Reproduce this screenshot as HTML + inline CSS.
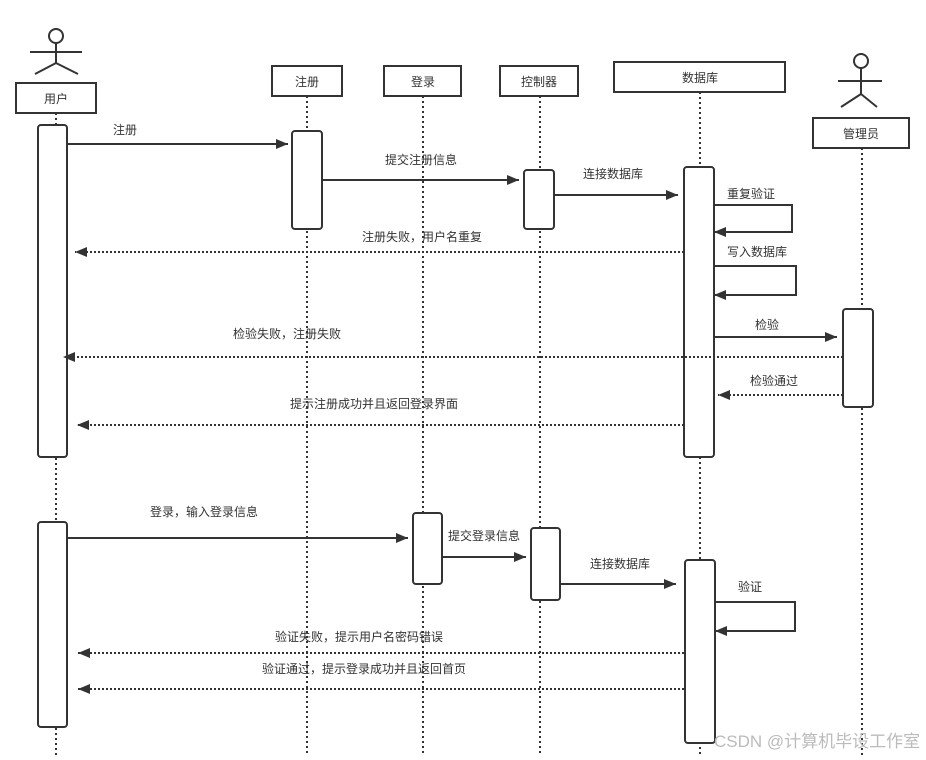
<!DOCTYPE html>
<html><head><meta charset="utf-8"><style>
html,body{margin:0;padding:0;background:#fff;}
svg text{font-family:"Liberation Sans","Noto Sans CJK SC",sans-serif;font-size:12px;fill:#333;}
</style></head><body>
<svg width="926" height="755" viewBox="0 0 926 755" xmlns="http://www.w3.org/2000/svg">
<defs>
<marker id="a" markerWidth="12" markerHeight="10" refX="12" refY="5" orient="auto" markerUnits="userSpaceOnUse">
<path d="M0,0 L12,5 L0,10 Z" fill="#333"/></marker>
</defs>
<g stroke="#333" stroke-width="2" stroke-dasharray="2,3" fill="none">
<line x1="56" y1="113" x2="56" y2="755"/>
<line x1="307" y1="96" x2="307" y2="755"/>
<line x1="423" y1="96" x2="423" y2="755"/>
<line x1="540" y1="96" x2="540" y2="755"/>
<line x1="700" y1="92" x2="700" y2="755"/>
<line x1="862" y1="148" x2="862" y2="755"/>
</g>
<g stroke="#333" stroke-width="2" fill="#fff">
<circle cx="56" cy="36" r="7"/>
<line x1="56" y1="43" x2="56" y2="63"/><line x1="30" y1="52" x2="82" y2="52"/>
<line x1="56" y1="63" x2="35" y2="74"/><line x1="56" y1="63" x2="78" y2="74"/>
<circle cx="861" cy="61" r="7"/>
<line x1="861" y1="68" x2="861" y2="94"/><line x1="838" y1="81" x2="882" y2="81"/>
<line x1="861" y1="94" x2="841" y2="107"/><line x1="861" y1="94" x2="877" y2="107"/>
</g>
<g stroke="#333" stroke-width="2" fill="#fff">
<rect x="16" y="83" width="80" height="30"/>
<rect x="272" y="66" width="70" height="30"/>
<rect x="384" y="66" width="77" height="30"/>
<rect x="500" y="66" width="78" height="30"/>
<rect x="614" y="62" width="171" height="30"/>
<rect x="813" y="118" width="96" height="30"/>
<rect x="38" y="125" width="29" height="332" rx="3"/>
<rect x="292" y="131" width="30" height="98" rx="3"/>
<rect x="524" y="170" width="30" height="59" rx="3"/>
<rect x="684" y="167" width="30" height="290" rx="3"/>
<rect x="843" y="309" width="30" height="98" rx="3"/>
<rect x="38" y="522" width="29" height="205" rx="3"/>
<rect x="413" y="513" width="29" height="71" rx="3"/>
<rect x="531" y="528" width="29" height="72" rx="3"/>
<rect x="685" y="560" width="30" height="183" rx="3"/>
</g>
<g text-anchor="middle">
<text x="56" y="103">用户</text><text x="307" y="86">注册</text><text x="423" y="86">登录</text>
<text x="539" y="86">控制器</text><text x="700" y="82">数据库</text><text x="861" y="138">管理员</text>
</g>
<g stroke="#333" stroke-width="2" fill="none" marker-end="url(#a)">
<line x1="67" y1="144" x2="288" y2="144"/>
<line x1="322" y1="180" x2="519" y2="180"/>
<line x1="554" y1="195" x2="678" y2="195"/>
<polyline points="714,205 792,205 792,232 714,232"/>
<polyline points="714,266 796,266 796,295 714,295"/>
<line x1="714" y1="337" x2="837" y2="337"/>
<line x1="67" y1="538" x2="408" y2="538"/>
<line x1="442" y1="557" x2="526" y2="557"/>
<line x1="560" y1="584" x2="676" y2="584"/>
<polyline points="715,602 795,602 795,631 715,631"/>
</g>
<g stroke="#333" stroke-width="2" stroke-dasharray="2,2" fill="none" marker-end="url(#a)">
<line x1="684" y1="252" x2="75" y2="252"/>
<line x1="843" y1="357" x2="63" y2="357"/>
<line x1="843" y1="395" x2="718" y2="395"/>
<line x1="684" y1="425" x2="77" y2="425"/>
<line x1="684" y1="653" x2="78" y2="653"/>
<line x1="684" y1="689" x2="78" y2="689"/>
</g>
<text x="113" y="134">注册</text>
<text x="385" y="164">提交注册信息</text>
<text x="583" y="178">连接数据库</text>
<text x="727" y="198">重复验证</text>
<text x="362" y="241">注册失败，用户名重复</text>
<text x="727" y="256">写入数据库</text>
<text x="755" y="329">检验</text>
<text x="233" y="338">检验失败，注册失败</text>
<text x="750" y="385">检验通过</text>
<text x="290" y="408">提示注册成功并且返回登录界面</text>
<text x="150" y="516">登录，输入登录信息</text>
<text x="448" y="540">提交登录信息</text>
<text x="590" y="568">连接数据库</text>
<text x="738" y="591">验证</text>
<text x="275" y="641">验证失败，提示用户名密码错误</text>
<text x="262" y="673">验证通过，提示登录成功并且返回首页</text>
<text x="714" y="747" style="font-size:17px;fill:#bbb">CSDN @计算机毕设工作室</text>
</svg>
</body></html>
